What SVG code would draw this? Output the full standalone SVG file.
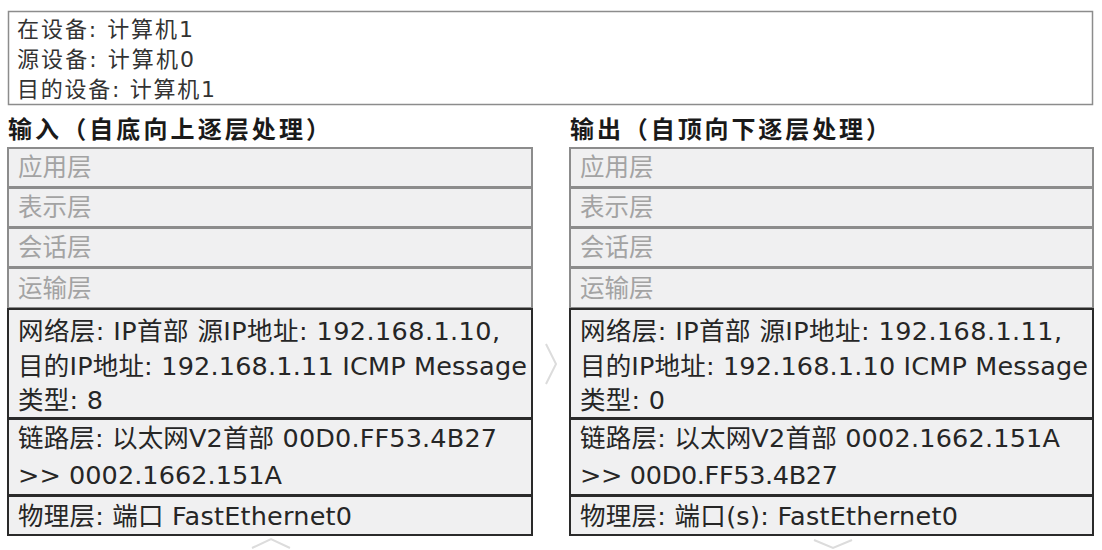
<svg xmlns="http://www.w3.org/2000/svg" width="1102" height="550" viewBox="0 0 1102 550">
<style>
.t{font-family:"DejaVu Sans","Noto Sans CJK SC",sans-serif;font-size:25.5px;fill:#262626}
.g{font-family:"DejaVu Sans","Noto Sans CJK SC",sans-serif;font-size:24.5px;fill:#a3a3a3}
.top{font-family:"DejaVu Sans","Noto Sans CJK SC",sans-serif;font-size:22px;fill:#333}
.h{font-family:"Noto Sans CJK SC",sans-serif;font-size:24px;font-weight:bold;fill:#1a1a1a}
.rg{fill:#f0f0f1;stroke:#8c8c8c;stroke-width:2}
.ra{fill:#f0f0f1;stroke:#2a2a2a;stroke-width:2}
.arr{fill:none;stroke:#dcdcdc;stroke-width:2}
</style>
<rect x="0" y="0" width="1102" height="550" fill="#ffffff"/>
<g id="info">
<rect x="8.5" y="11.5" width="1084" height="93" fill="#fff" stroke="#8c8c8c" stroke-width="1.5"/>
<text class="top" x="17" y="37" textLength="176" lengthAdjust="spacing">在设备: 计算机1</text>
<text class="top" x="17" y="67" textLength="177" lengthAdjust="spacing">源设备: 计算机0</text>
<text class="top" x="17" y="97" textLength="198" lengthAdjust="spacing">目的设备: 计算机1</text>
</g>
<g id="in-header"><text class="h" x="8" y="138" textLength="322" lengthAdjust="spacing">输入（自底向上逐层处理）</text></g>
<g id="out-header"><text class="h" x="570" y="138" textLength="320" lengthAdjust="spacing">输出（自顶向下逐层处理）</text></g>

<g id="in-app"><rect class="rg" x="8" y="148" width="524" height="39"/><text class="g" x="18" y="176">应用层</text></g>
<g id="in-pres"><rect class="rg" x="8" y="188" width="524" height="39"/><text class="g" x="18" y="216">表示层</text></g>
<g id="in-sess"><rect class="rg" x="8" y="228" width="524" height="39"/><text class="g" x="18" y="256">会话层</text></g>
<g id="in-trans"><rect class="rg" x="8" y="268" width="524" height="40"/><text class="g" x="18" y="297">运输层</text></g>
<g id="in-net"><rect class="ra" x="8" y="309" width="524" height="109"/>
<text class="t" x="18" y="340" textLength="482" lengthAdjust="spacing">网络层: IP首部 源IP地址: 192.168.1.10,</text>
<text class="t" x="18" y="375" textLength="509" lengthAdjust="spacing">目的IP地址: 192.168.1.11 ICMP Message</text>
<text class="t" x="18" y="409" textLength="85" lengthAdjust="spacing">类型: 8</text></g>
<g id="in-link"><rect class="ra" x="8" y="419" width="524" height="76"/>
<text class="t" x="18" y="447" textLength="479" lengthAdjust="spacing">链路层: 以太网V2首部 00D0.FF53.4B27</text>
<text class="t" x="18" y="484" textLength="264" lengthAdjust="spacing">&gt;&gt; 0002.1662.151A</text></g>
<g id="in-phys"><rect class="ra" x="8" y="496" width="524" height="39"/><text class="t" x="18" y="525" textLength="334" lengthAdjust="spacing">物理层: 端口 FastEthernet0</text></g>

<g id="out-app"><rect class="rg" x="570" y="148" width="523" height="39"/><text class="g" x="580" y="176">应用层</text></g>
<g id="out-pres"><rect class="rg" x="570" y="188" width="523" height="39"/><text class="g" x="580" y="216">表示层</text></g>
<g id="out-sess"><rect class="rg" x="570" y="228" width="523" height="39"/><text class="g" x="580" y="256">会话层</text></g>
<g id="out-trans"><rect class="rg" x="570" y="268" width="523" height="40"/><text class="g" x="580" y="297">运输层</text></g>
<g id="out-net"><rect class="ra" x="570" y="309" width="523" height="109"/>
<text class="t" x="580" y="340" textLength="482" lengthAdjust="spacing">网络层: IP首部 源IP地址: 192.168.1.11,</text>
<text class="t" x="580" y="375" textLength="508" lengthAdjust="spacing">目的IP地址: 192.168.1.10 ICMP Message</text>
<text class="t" x="580" y="409" textLength="85" lengthAdjust="spacing">类型: 0</text></g>
<g id="out-link"><rect class="ra" x="570" y="419" width="523" height="76"/>
<text class="t" x="580" y="447" textLength="480" lengthAdjust="spacing">链路层: 以太网V2首部 0002.1662.151A</text>
<text class="t" x="580" y="484" textLength="258" lengthAdjust="spacing">&gt;&gt; 00D0.FF53.4B27</text></g>
<g id="out-phys"><rect class="ra" x="570" y="496" width="523" height="39"/><text class="t" x="580" y="525" textLength="378" lengthAdjust="spacing">物理层: 端口(s): FastEthernet0</text></g>

<g id="connectors">
<polyline class="arr" points="546,344 556,364 546,384"/>
<polyline class="arr" points="252,548 271,539 290,548" stroke-width="3"/>
<polyline class="arr" points="814,540 833,548 852,540" stroke-width="3"/>
</g>
</svg>
